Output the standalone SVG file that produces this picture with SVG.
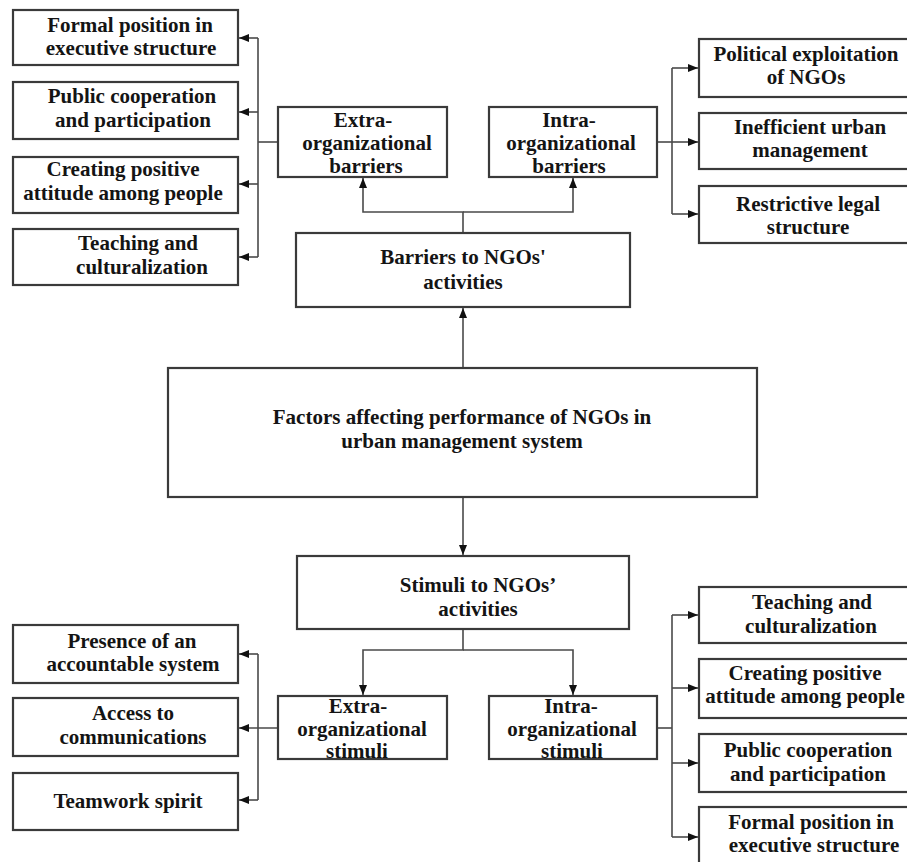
<svg xmlns="http://www.w3.org/2000/svg" width="907" height="862" viewBox="0 0 907 862">
<style>
.box{fill:#fff;stroke:#3a3a3a;stroke-width:2.2}
.t{font-family:"Liberation Serif","Times New Roman",serif;font-weight:bold;font-size:21px;fill:#141414;text-anchor:middle}
.c{fill:none;stroke:#4a4a4a;stroke-width:1.6}
</style>
<defs>
<marker id="ah" markerUnits="userSpaceOnUse" markerWidth="10" markerHeight="10" viewBox="0 0 10 10" refX="10" refY="5" orient="auto">
<path d="M0,1 L10,5 L0,9 Z" fill="#111"/>
</marker>
</defs>
<rect width="907" height="862" fill="#fff"/>

<g id="connectors">
<!-- top-left -->
<path class="c" d="M258,38 V257"/>
<path class="c" d="M278,142 H258"/>
<path class="c" d="M258,38 H239" marker-end="url(#ah)"/>
<path class="c" d="M258,112 H239" marker-end="url(#ah)"/>
<path class="c" d="M258,184 H239" marker-end="url(#ah)"/>
<path class="c" d="M258,257 H239" marker-end="url(#ah)"/>
<!-- barriers split -->
<path class="c" d="M463,233 V212 H363 V178" marker-end="url(#ah)"/>
<path class="c" d="M463,212 H573 V178" marker-end="url(#ah)"/>
<!-- top-right -->
<path class="c" d="M657,142 H672"/>
<path class="c" d="M672,68 V214"/>
<path class="c" d="M672,68 H698" marker-end="url(#ah)"/>
<path class="c" d="M672,142 H698" marker-end="url(#ah)"/>
<path class="c" d="M672,214 H698" marker-end="url(#ah)"/>
<!-- center -->
<path class="c" d="M463,368 V308" marker-end="url(#ah)"/>
<path class="c" d="M463,497 V555" marker-end="url(#ah)"/>
<!-- stimuli split -->
<path class="c" d="M463,629 V650 H363 V695" marker-end="url(#ah)"/>
<path class="c" d="M463,650 H573 V695" marker-end="url(#ah)"/>
<!-- bottom-left -->
<path class="c" d="M258,654 V800"/>
<path class="c" d="M278,728 H239" marker-end="url(#ah)"/>
<path class="c" d="M258,654 H239" marker-end="url(#ah)"/>
<path class="c" d="M258,800 H239" marker-end="url(#ah)"/>
<!-- bottom-right -->
<path class="c" d="M657,728 H672"/>
<path class="c" d="M672,615 V837"/>
<path class="c" d="M672,615 H698" marker-end="url(#ah)"/>
<path class="c" d="M672,688 H698" marker-end="url(#ah)"/>
<path class="c" d="M672,763 H698" marker-end="url(#ah)"/>
<path class="c" d="M672,837 H698" marker-end="url(#ah)"/>
</g>

<!-- top-left boxes -->
<g id="tl1"><rect class="box" x="13" y="10" width="225" height="55"/>
<text class="t" x="130" y="32">Formal position in</text><text class="t" x="131" y="55">executive structure</text></g>
<g id="tl2"><rect class="box" x="13" y="82" width="225" height="57"/>
<text class="t" x="132" y="103">Public cooperation</text><text class="t" x="133" y="127">and participation</text></g>
<g id="tl3"><rect class="box" x="13" y="157" width="225" height="56"/>
<text class="t" x="123" y="176">Creating positive</text><text class="t" x="123" y="200">attitude among people</text></g>
<g id="tl4"><rect class="box" x="13" y="229" width="225" height="56"/>
<text class="t" x="138" y="250">Teaching and</text><text class="t" x="142" y="274">culturalization</text></g>

<!-- barriers -->
<g id="extraB"><rect class="box" x="278" y="107" width="169" height="70"/>
<text class="t" x="363" y="127">Extra-</text><text class="t" x="367" y="150">organizational</text><text class="t" x="366" y="173">barriers</text></g>
<g id="intraB"><rect class="box" x="489" y="107" width="168" height="70"/>
<text class="t" x="569" y="127">Intra-</text><text class="t" x="571" y="150">organizational</text><text class="t" x="569" y="173">barriers</text></g>

<!-- top-right -->
<g id="tr1"><rect class="box" x="699" y="39" width="216" height="58"/>
<text class="t" x="806" y="61">Political exploitation</text><text class="t" x="806" y="84">of NGOs</text></g>
<g id="tr2"><rect class="box" x="699" y="113" width="216" height="56"/>
<text class="t" x="810" y="134">Inefficient urban</text><text class="t" x="810" y="157">management</text></g>
<g id="tr3"><rect class="box" x="699" y="186" width="216" height="57"/>
<text class="t" x="808" y="211">Restrictive legal</text><text class="t" x="808" y="234">structure</text></g>

<g id="barriers"><rect class="box" x="296" y="233" width="334" height="74"/>
<text class="t" x="463" y="264">Barriers to NGOs'</text><text class="t" x="463" y="289">activities</text></g>

<g id="center"><rect class="box" x="168" y="368" width="589" height="129"/>
<text class="t" x="462" y="424">Factors affecting performance of NGOs in</text><text class="t" x="462" y="448">urban management system</text></g>

<g id="stimuli"><rect class="box" x="297" y="556" width="332" height="73"/>
<text class="t" x="478" y="592">Stimuli to NGOs’</text><text class="t" x="478" y="616">activities</text></g>

<g id="extraS"><rect class="box" x="278" y="696" width="169" height="63"/>
<text class="t" x="358" y="713">Extra-</text><text class="t" x="362" y="736">organizational</text><text class="t" x="357" y="758">stimuli</text></g>
<g id="intraS"><rect class="box" x="489" y="696" width="168" height="63"/>
<text class="t" x="571" y="713">Intra-</text><text class="t" x="572" y="736">organizational</text><text class="t" x="572" y="758">stimuli</text></g>

<!-- bottom-left -->
<g id="bl1"><rect class="box" x="13" y="625" width="225" height="58"/>
<text class="t" x="132" y="648">Presence of an</text><text class="t" x="133" y="671">accountable system</text></g>
<g id="bl2"><rect class="box" x="13" y="698" width="225" height="58"/>
<text class="t" x="133" y="720">Access to</text><text class="t" x="133" y="744">communications</text></g>
<g id="bl3"><rect class="box" x="13" y="773" width="225" height="57"/>
<text class="t" x="128" y="808">Teamwork spirit</text></g>

<!-- bottom-right -->
<g id="br1"><rect class="box" x="699" y="587" width="216" height="56"/>
<text class="t" x="812" y="609">Teaching and</text><text class="t" x="811" y="633">culturalization</text></g>
<g id="br2"><rect class="box" x="699" y="659" width="216" height="59"/>
<text class="t" x="805" y="680">Creating positive</text><text class="t" x="805" y="703">attitude among people</text></g>
<g id="br3"><rect class="box" x="699" y="734" width="216" height="58"/>
<text class="t" x="808" y="757">Public cooperation</text><text class="t" x="808" y="781">and participation</text></g>
<g id="br4"><rect class="box" x="699" y="807" width="216" height="65"/>
<text class="t" x="811" y="829">Formal position in</text><text class="t" x="814" y="852">executive structure</text></g>
</svg>
